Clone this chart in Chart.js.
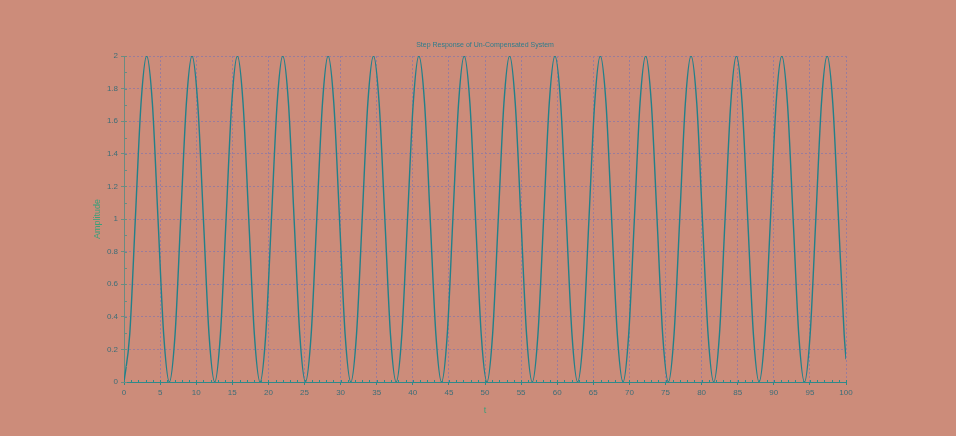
<!DOCTYPE html>
<html>
<head>
<meta charset="utf-8">
<script src="https://cdn.jsdelivr.net/npm/chart.js@4"></script>
<style>
  body { margin: 0; background: #cc8c7a; }
  canvas { display: block; }
</style>
</head>
<body>
<canvas id="stepChart" width="956" height="436"></canvas>
<script>
// Step response (t, amplitude), 8 readings per oscillation
var times = [0, 0.79, 1.57, 2.36, 3.14, 3.93, 4.71, 5.5, 6.28, 7.07, 7.85, 8.64, 9.42, 10.21, 11.0, 11.78,
  12.57, 13.35, 14.14, 14.92, 15.71, 16.49, 17.28, 18.06, 18.85, 19.63, 20.42, 21.21, 21.99, 22.78, 23.56, 24.35,
  25.13, 25.92, 26.7, 27.49, 28.27, 29.06, 29.85, 30.63, 31.42, 32.2, 32.99, 33.77, 34.56, 35.34, 36.13, 36.91,
  37.7, 38.48, 39.27, 40.06, 40.84, 41.63, 42.41, 43.2, 43.98, 44.77, 45.55, 46.34, 47.12, 47.91, 48.69, 49.48,
  50.27, 51.05, 51.84, 52.62, 53.41, 54.19, 54.98, 55.76, 56.55, 57.33, 58.12, 58.9, 59.69, 60.48, 61.26, 62.05,
  62.83, 63.62, 64.4, 65.19, 65.97, 66.76, 67.54, 68.33, 69.12, 69.9, 70.69, 71.47, 72.26, 73.04, 73.83, 74.61,
  75.4, 76.18, 76.97, 77.75, 78.54, 79.33, 80.11, 80.9, 81.68, 82.47, 83.25, 84.04, 84.82, 85.61, 86.39, 87.18,
  87.96, 88.75, 89.54, 90.32, 91.11, 91.89, 92.68, 93.46, 94.25, 95.03, 95.82, 96.6, 97.39, 98.17, 98.96, 99.75,
  100];
var amplitude = [0, 0.29, 1, 1.71, 2, 1.71, 1, 0.29, 0, 0.29, 1, 1.71, 2, 1.71, 1, 0.29,
  0, 0.29, 1, 1.71, 2, 1.71, 1, 0.29, 0, 0.29, 1, 1.71, 2, 1.71, 1, 0.29,
  0, 0.29, 1, 1.71, 2, 1.71, 1, 0.29, 0, 0.29, 1, 1.71, 2, 1.71, 1, 0.29,
  0, 0.29, 1, 1.71, 2, 1.71, 1, 0.29, 0, 0.29, 1, 1.71, 2, 1.71, 1, 0.29,
  0, 0.29, 1, 1.71, 2, 1.71, 1, 0.29, 0, 0.29, 1, 1.71, 2, 1.71, 1, 0.29,
  0, 0.29, 1, 1.71, 2, 1.71, 1, 0.29, 0, 0.29, 1, 1.71, 2, 1.71, 1, 0.29,
  0, 0.29, 1, 1.71, 2, 1.71, 1, 0.29, 0, 0.29, 1, 1.71, 2, 1.71, 1, 0.29,
  0, 0.29, 1, 1.71, 2, 1.71, 1, 0.29, 0, 0.29, 1, 1.71, 2, 1.71, 1, 0.29,
  0.14];

var xRange = [0, 100];
var yRange = [0, 2];
var xStep = 5, yStep = 0.2;
var chartTitle = 'Step Response of Un-Compensated System';

var points = times.map((t, i) => ({ x: t, y: amplitude[i] }));

// minor ticks + title centred over the plot area
var scilabExtras = {
  id: 'scilabExtras',
  afterDraw(chart) {
    var ctx = chart.ctx, area = chart.chartArea;
    var xs = chart.scales.x, ys = chart.scales.y;
    ctx.save();
    ctx.lineWidth = 1;
    ctx.strokeStyle = '#2e8a8a';
    for (var v = xRange[0]; v <= xRange[1]; v += 1) {
      var px = Math.round(xs.getPixelForValue(v)) + 0.5;
      ctx.beginPath();
      ctx.moveTo(px, area.bottom + 1);
      ctx.lineTo(px, area.bottom - 2);
      ctx.stroke();
    }
    ctx.strokeStyle = '#6a8c82';
    for (var k = 0; k <= 20; k++) {
      var py = Math.round(ys.getPixelForValue(k * 0.1)) + 0.5;
      ctx.beginPath();
      ctx.moveTo(area.left, py);
      ctx.lineTo(area.left + 3, py);
      ctx.stroke();
    }
    ctx.fillStyle = '#2f7d8c';
    ctx.font = '7px "Liberation Sans", Arial, sans-serif';
    ctx.textAlign = 'center';
    ctx.textBaseline = 'middle';
    ctx.fillText(chartTitle, (area.left + area.right) / 2, 45);
    ctx.restore();
  }
};

var ctxStep = document.getElementById('stepChart').getContext('2d');
var stepChart = new Chart(ctxStep, {
  type: 'line',
  data: {
    datasets: [{
      data: points,
      borderColor: '#22808a',
      borderWidth: 1.4,
      pointRadius: 0,
      cubicInterpolationMode: 'monotone',
      fill: false
    }]
  },
  options: {
    responsive: false,
    animation: false,
    layout: { padding: { left: 86, right: 110, top: 56, bottom: 20 } },
    plugins: { legend: { display: false }, tooltip: { enabled: false }, title: { display: false } },
    scales: {
      x: {
        type: 'linear',
        min: xRange[0], max: xRange[1],
        afterFit: s => { s.height = 34; },
        ticks: { stepSize: xStep, color: '#3d6e78', font: { size: 8, family: '"Liberation Sans", Arial, sans-serif' }, padding: 3, maxRotation: 0 },
        grid: { color: '#9a7c9c', lineWidth: 1, tickLength: 3, tickColor: '#2e8a8a' },
        border: { display: true, color: '#2e8a8a', width: 1, dash: [2, 2] },
        title: { display: true, text: 't', color: '#3aa07a', font: { size: 9, family: '"Liberation Sans", Arial, sans-serif' }, padding: { top: 2, bottom: 0 } }
      },
      y: {
        min: yRange[0], max: yRange[1],
        afterFit: s => { s.width = 38; },
        ticks: {
          stepSize: yStep, color: '#3d6e78', font: { size: 8, family: '"Liberation Sans", Arial, sans-serif' }, padding: 3,
          callback: v => String(Number(v.toFixed(1)))
        },
        grid: { color: '#9a7c9c', lineWidth: 1, tickLength: 3, tickColor: '#6a8c82' },
        border: { display: true, color: '#6a8c82', width: 1, dash: [2, 2] },
        title: { display: true, text: 'Amplitude', color: '#3aa07a', font: { size: 9, family: '"Liberation Sans", Arial, sans-serif' }, padding: { top: 6, bottom: 0 } }
      }
    }
  },
  plugins: [scilabExtras]
});
</script>
</body>
</html>
